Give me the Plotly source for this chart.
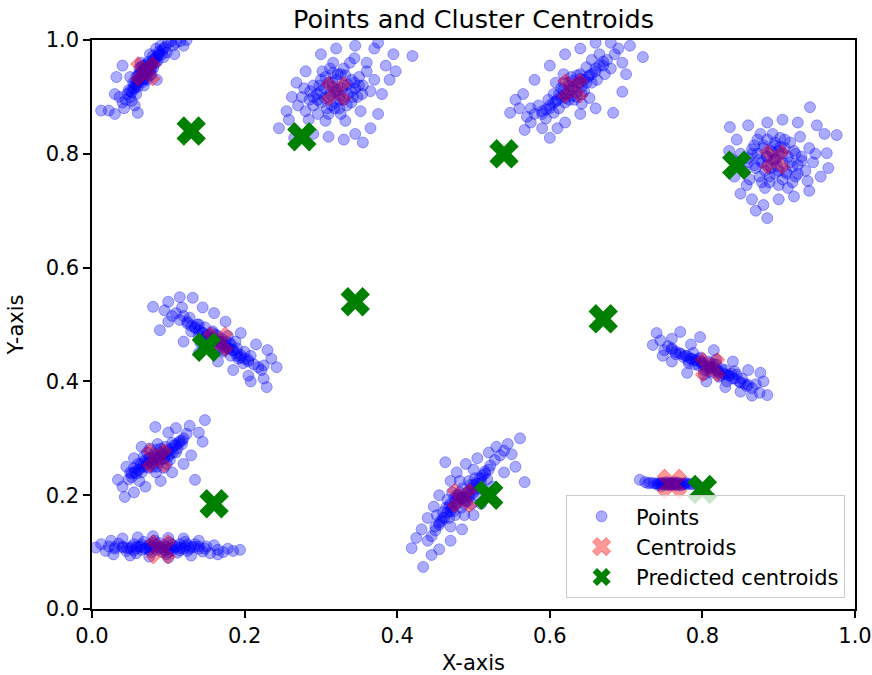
import plotly.graph_objects as go

# ---- data ----
cluster_1 = [(0.070,0.945),(0.066,0.938),(0.074,0.952),(0.062,0.932),(0.078,0.958),(0.068,0.948),(0.072,0.940),(0.060,0.925),(0.080,0.965),(0.064,0.944),(0.076,0.946),(0.058,0.920),(0.084,0.970),(0.070,0.955),(0.070,0.932),(0.056,0.915),(0.088,0.975),(0.062,0.950),(0.078,0.940),(0.066,0.926),(0.082,0.960),(0.074,0.962),(0.060,0.938),(0.052,0.908),(0.092,0.982),(0.086,0.964),(0.054,0.925),(0.068,0.920),(0.090,0.990),(0.096,0.988),(0.100,0.995),(0.050,0.900),(0.048,0.912),(0.058,0.905),(0.080,0.950),(0.064,0.960),(0.076,0.975),(0.084,0.985),(0.104,0.998),(0.110,0.995),(0.094,0.970),(0.098,0.978),(0.044,0.895),(0.046,0.905),(0.052,0.893),(0.072,0.930),(0.066,0.955),(0.106,0.990),(0.116,0.998),(0.040,0.890),
             (0.068,0.942),(0.072,0.948),(0.064,0.936),(0.076,0.954),(0.060,0.930),(0.080,0.958),(0.070,0.950),(0.070,0.940),(0.066,0.945),(0.074,0.945),(0.062,0.940),(0.078,0.950),(0.058,0.928),(0.082,0.966),(0.056,0.922),(0.086,0.972),(0.064,0.952),(0.076,0.938),(0.054,0.915),(0.088,0.980),(0.072,0.958),(0.068,0.932),(0.084,0.960),(0.060,0.918),(0.092,0.975),(0.050,0.910),(0.080,0.972),(0.058,0.935),(0.094,0.985),(0.066,0.930),
             (0.012,0.876),(0.022,0.876),(0.030,0.870),(0.060,0.872),(0.042,0.880),(0.036,0.900),(0.056,0.885),(0.032,0.935),(0.040,0.955),(0.120,0.990),(0.108,0.975),(0.085,0.930),(0.124,1.000),(0.050,0.935),(0.030,0.905)]
cluster_2 = [(0.320,0.910),(0.310,0.900),(0.330,0.920),(0.300,0.890),(0.340,0.930),(0.315,0.925),(0.325,0.895),(0.305,0.915),(0.335,0.905),(0.295,0.905),(0.345,0.915),(0.318,0.880),(0.322,0.940),(0.290,0.885),(0.350,0.935),(0.300,0.930),(0.340,0.890),(0.285,0.895),(0.355,0.920),(0.310,0.870),(0.330,0.950),(0.280,0.875),(0.360,0.945),(0.326,0.870),(0.312,0.950),(0.296,0.870),(0.348,0.900),(0.302,0.945),(0.338,0.960),(0.275,0.900),(0.365,0.910),(0.290,0.920),(0.352,0.875),(0.316,0.960),(0.284,0.860),(0.332,0.858),(0.370,0.930),(0.270,0.885),(0.344,0.968),(0.306,0.858),(0.360,0.960),(0.278,0.915),
             (0.318,0.908),(0.322,0.912),(0.312,0.905),(0.328,0.915),(0.305,0.898),(0.335,0.922),(0.315,0.918),(0.325,0.902),(0.300,0.910),(0.340,0.910),(0.310,0.925),(0.330,0.895),(0.296,0.895),(0.344,0.925),(0.320,0.930),(0.320,0.890),(0.306,0.935),(0.334,0.885),(0.290,0.900),(0.350,0.920),(0.314,0.885),(0.326,0.940),(0.298,0.920),(0.342,0.900),(0.308,0.880),(0.332,0.938),(0.286,0.910),(0.354,0.905),(0.324,0.880),(0.316,0.942),
             (0.245,0.845),(0.258,0.860),(0.262,0.900),(0.255,0.875),(0.268,0.925),(0.300,0.975),(0.320,0.985),(0.345,0.990),(0.375,0.995),(0.395,0.975),(0.420,0.972),(0.385,0.955),(0.380,0.905),(0.375,0.870),(0.365,0.845),(0.345,0.835),(0.330,0.825),(0.310,0.830),(0.290,0.835),(0.265,0.828),(0.355,0.820),(0.390,0.930),(0.280,0.945),(0.370,0.985),(0.398,0.945)]
cluster_3 = [(0.630,0.915),(0.620,0.905),(0.640,0.925),(0.610,0.895),(0.650,0.935),(0.625,0.925),(0.635,0.900),(0.600,0.885),(0.660,0.945),(0.615,0.915),(0.645,0.910),(0.590,0.875),(0.670,0.955),(0.605,0.905),(0.655,0.925),(0.620,0.890),(0.640,0.940),(0.580,0.870),(0.675,0.965),(0.598,0.895),(0.662,0.930),(0.612,0.880),(0.648,0.952),(0.585,0.885),(0.680,0.950),(0.628,0.935),(0.632,0.895),(0.595,0.862),(0.665,0.975),(0.575,0.880),(0.685,0.975),(0.618,0.940),(0.642,0.888),(0.605,0.872),(0.655,0.965),(0.570,0.865),(0.690,0.985),(0.652,0.898),(0.608,0.925),(0.672,0.940),
             (0.628,0.912),(0.632,0.918),(0.622,0.905),(0.638,0.925),(0.615,0.900),(0.645,0.930),(0.625,0.920),(0.635,0.908),(0.608,0.892),(0.652,0.938),(0.618,0.912),(0.642,0.918),(0.600,0.880),(0.660,0.950),(0.620,0.898),(0.640,0.932),(0.612,0.905),(0.648,0.925),(0.595,0.878),(0.665,0.955),(0.630,0.928),(0.630,0.902),(0.605,0.890),(0.655,0.940),(0.618,0.925),(0.642,0.905),(0.590,0.870),(0.670,0.962),(0.625,0.895),(0.636,0.938),
             (0.548,0.872),(0.560,0.880),(0.567,0.842),(0.600,0.828),(0.590,0.845),(0.620,0.855),(0.640,0.870),(0.683,0.872),(0.695,0.909),(0.700,0.940),(0.722,0.970),(0.705,0.990),(0.680,0.995),(0.660,0.995),(0.640,0.985),(0.620,0.975),(0.600,0.955),(0.580,0.930),(0.565,0.905),(0.555,0.895),(0.610,0.845),(0.695,0.960),(0.660,0.880),(0.575,0.855)]
cluster_4 = [(0.895,0.790),(0.885,0.780),(0.905,0.800),(0.875,0.790),(0.915,0.785),(0.890,0.805),(0.900,0.770),(0.870,0.775),(0.920,0.805),(0.880,0.810),(0.910,0.765),(0.865,0.800),(0.925,0.780),(0.895,0.820),(0.888,0.760),(0.860,0.785),(0.930,0.795),(0.878,0.750),(0.908,0.825),(0.935,0.770),(0.855,0.770),(0.900,0.745),(0.872,0.825),(0.918,0.750),(0.940,0.810),(0.862,0.755),(0.892,0.835),(0.928,0.830),(0.850,0.800),(0.945,0.785),(0.882,0.740),(0.912,0.740),(0.868,0.815),(0.902,0.812),(0.922,0.760),(0.884,0.795),(0.938,0.752),(0.858,0.745),(0.948,0.800),(0.876,0.835),
             (0.893,0.788),(0.897,0.792),(0.885,0.795),(0.905,0.785),(0.890,0.775),(0.900,0.805),(0.878,0.785),(0.912,0.795),(0.882,0.770),(0.908,0.810),(0.895,0.765),(0.895,0.815),(0.872,0.800),(0.918,0.778),(0.880,0.815),(0.910,0.768),(0.868,0.780),(0.922,0.800),(0.888,0.750),(0.902,0.828),(0.875,0.760),(0.915,0.820),(0.865,0.808),(0.925,0.765),(0.898,0.778),(0.892,0.802),(0.885,0.825),(0.905,0.755),(0.930,0.788),(0.860,0.792),
             (0.836,0.847),(0.845,0.825),(0.840,0.790),(0.842,0.760),(0.850,0.730),(0.865,0.720),(0.880,0.710),(0.885,0.687),(0.900,0.720),(0.920,0.725),(0.940,0.735),(0.955,0.760),(0.963,0.801),(0.976,0.833),(0.960,0.835),(0.941,0.882),(0.925,0.855),(0.905,0.860),(0.885,0.855),(0.860,0.850),(0.950,0.850),(0.870,0.700),(0.965,0.775),(0.835,0.805)]
cluster_5 = [(0.165,0.470),(0.155,0.478),(0.175,0.462),(0.145,0.486),(0.185,0.454),(0.160,0.465),(0.170,0.475),(0.135,0.494),(0.195,0.446),(0.150,0.472),(0.180,0.468),(0.125,0.502),(0.205,0.438),(0.140,0.480),(0.190,0.458),(0.158,0.488),(0.172,0.452),(0.115,0.508),(0.212,0.430),(0.130,0.488),(0.200,0.452),(0.148,0.495),(0.182,0.445),(0.120,0.515),(0.218,0.425),(0.162,0.482),(0.168,0.458),(0.110,0.520),(0.222,0.420),(0.138,0.500),(0.192,0.440),(0.152,0.460),(0.178,0.480),(0.128,0.512),(0.208,0.445),(0.142,0.468),(0.188,0.470),(0.105,0.515),(0.225,0.428),(0.198,0.432),
             (0.163,0.472),(0.167,0.468),(0.158,0.476),(0.172,0.464),(0.150,0.480),(0.180,0.458),(0.160,0.470),(0.170,0.470),(0.145,0.485),(0.185,0.455),(0.155,0.470),(0.175,0.470),(0.140,0.490),(0.190,0.450),(0.152,0.482),(0.178,0.458),(0.135,0.495),(0.195,0.442),(0.165,0.480),(0.165,0.460),(0.130,0.498),(0.200,0.440),(0.148,0.475),(0.182,0.465),(0.125,0.505),(0.205,0.435),(0.158,0.485),(0.172,0.455),(0.140,0.500),(0.190,0.445),
             (0.080,0.531),(0.089,0.490),(0.095,0.525),(0.100,0.505),(0.115,0.548),(0.132,0.547),(0.118,0.530),(0.145,0.530),(0.160,0.520),(0.175,0.505),(0.195,0.485),(0.215,0.465),(0.229,0.390),(0.242,0.425),(0.235,0.440),(0.225,0.405),(0.205,0.410),(0.185,0.420),(0.165,0.435),(0.140,0.450),(0.120,0.470),(0.230,0.455),(0.100,0.540),(0.208,0.400)]
cluster_6 = [(0.810,0.425),(0.800,0.432),(0.820,0.418),(0.790,0.438),(0.830,0.412),(0.805,0.420),(0.815,0.430),(0.780,0.445),(0.840,0.405),(0.795,0.428),(0.825,0.422),(0.770,0.450),(0.850,0.398),(0.785,0.440),(0.835,0.410),(0.808,0.435),(0.812,0.415),(0.760,0.456),(0.858,0.392),(0.775,0.443),(0.845,0.412),(0.798,0.442),(0.822,0.408),(0.755,0.462),(0.865,0.388),(0.788,0.450),(0.832,0.400),(0.765,0.448),(0.852,0.405),(0.802,0.412),(0.818,0.438),(0.750,0.455),(0.870,0.395),(0.782,0.432),(0.842,0.418),
             (0.808,0.427),(0.812,0.423),(0.800,0.430),(0.820,0.420),(0.792,0.436),(0.828,0.414),(0.805,0.425),(0.815,0.425),(0.785,0.440),(0.835,0.410),(0.798,0.435),(0.822,0.415),(0.778,0.445),(0.842,0.405),(0.790,0.430),(0.830,0.420),(0.772,0.448),(0.848,0.400),(0.810,0.432),(0.810,0.418),(0.765,0.452),(0.855,0.396),(0.795,0.440),(0.825,0.410),(0.782,0.436),(0.838,0.414),(0.760,0.458),(0.860,0.394),(0.802,0.420),(0.818,0.430),
             (0.740,0.485),(0.735,0.464),(0.745,0.472),(0.771,0.487),(0.797,0.478),(0.760,0.475),(0.785,0.465),(0.815,0.455),(0.840,0.435),(0.860,0.420),(0.876,0.415),(0.885,0.376),(0.875,0.380),(0.865,0.375),(0.850,0.382),(0.830,0.390),(0.805,0.400),(0.780,0.415),(0.760,0.435),(0.880,0.400),(0.748,0.445)]
cluster_7 = [(0.085,0.265),(0.078,0.258),(0.092,0.272),(0.070,0.250),(0.100,0.280),(0.082,0.272),(0.088,0.258),(0.062,0.245),(0.108,0.288),(0.075,0.265),(0.095,0.265),(0.058,0.238),(0.115,0.295),(0.068,0.258),(0.102,0.272),(0.080,0.250),(0.090,0.282),(0.052,0.232),(0.120,0.300),(0.065,0.240),(0.105,0.292),(0.072,0.275),(0.098,0.255),(0.055,0.248),(0.112,0.282),(0.086,0.290),(0.084,0.240),(0.048,0.228),(0.124,0.308),(0.060,0.255),(0.110,0.275),(0.094,0.248),(0.076,0.282),(0.118,0.290),(0.050,0.240),
             (0.083,0.263),(0.087,0.267),(0.078,0.260),(0.092,0.270),(0.072,0.255),(0.098,0.276),(0.082,0.268),(0.088,0.262),(0.066,0.250),(0.104,0.282),(0.076,0.266),(0.094,0.264),(0.060,0.245),(0.110,0.288),(0.080,0.255),(0.090,0.275),(0.070,0.262),(0.100,0.268),(0.056,0.240),(0.114,0.292),(0.085,0.280),(0.085,0.250),(0.064,0.255),(0.106,0.275),(0.074,0.248),(0.096,0.285),(0.052,0.238),(0.118,0.296),(0.068,0.268),(0.102,0.262),
             (0.034,0.227),(0.043,0.197),(0.040,0.215),(0.045,0.250),(0.055,0.265),(0.065,0.285),(0.083,0.320),(0.100,0.310),(0.110,0.318),(0.128,0.322),(0.148,0.332),(0.145,0.294),(0.135,0.227),(0.130,0.270),(0.120,0.255),(0.105,0.240),(0.090,0.225),(0.070,0.215),(0.055,0.205),(0.140,0.310),(0.062,0.225)]
cluster_8 = [(0.485,0.195),(0.478,0.185),(0.492,0.205),(0.470,0.172),(0.500,0.218),(0.480,0.200),(0.490,0.190),(0.462,0.160),(0.508,0.230),(0.475,0.195),(0.495,0.198),(0.455,0.148),(0.515,0.242),(0.468,0.180),(0.502,0.210),(0.486,0.212),(0.484,0.178),(0.450,0.138),(0.522,0.252),(0.460,0.170),(0.510,0.222),(0.472,0.205),(0.498,0.185),(0.445,0.128),(0.528,0.262),(0.476,0.165),(0.494,0.225),(0.458,0.155),(0.512,0.235),(0.466,0.192),(0.505,0.200),(0.440,0.120),(0.535,0.270),(0.482,0.225),(0.488,0.165),(0.452,0.165),(0.518,0.228),(0.470,0.145),(0.500,0.245),(0.540,0.278),
             (0.484,0.193),(0.486,0.197),(0.478,0.186),(0.492,0.204),(0.472,0.178),(0.498,0.212),(0.480,0.195),(0.490,0.195),(0.466,0.170),(0.504,0.220),(0.476,0.190),(0.494,0.200),(0.460,0.160),(0.510,0.230),(0.482,0.205),(0.488,0.185),(0.470,0.185),(0.500,0.205),(0.455,0.152),(0.515,0.238),(0.474,0.172),(0.496,0.218),(0.464,0.178),(0.506,0.212),(0.468,0.160),(0.502,0.230),(0.450,0.145),(0.520,0.245),(0.478,0.200),(0.492,0.190),
             (0.434,0.074),(0.419,0.107),(0.425,0.125),(0.432,0.140),(0.440,0.160),(0.448,0.180),(0.455,0.200),(0.463,0.258),(0.470,0.225),(0.478,0.240),(0.490,0.255),(0.505,0.265),(0.520,0.275),(0.530,0.285),(0.545,0.290),(0.561,0.300),(0.567,0.223),(0.555,0.250),(0.540,0.240),(0.525,0.215),(0.510,0.185),(0.500,0.165),(0.485,0.140),(0.470,0.120),(0.455,0.105),(0.445,0.095),(0.550,0.272)]
cluster_9 = [(0.760,0.220),(0.755,0.219),(0.765,0.221),(0.750,0.220),(0.770,0.219),(0.758,0.222),(0.762,0.218),(0.745,0.221),(0.775,0.220),(0.752,0.218),(0.768,0.222),(0.740,0.220),(0.780,0.219),(0.748,0.222),(0.772,0.217),(0.757,0.217),(0.763,0.223),(0.736,0.221),(0.785,0.220),(0.742,0.218),(0.778,0.222),(0.753,0.223),(0.767,0.217),(0.732,0.222),(0.788,0.219),(0.718,0.227),(0.725,0.223),(0.729,0.221),(0.792,0.220),(0.746,0.216),
             (0.758,0.220),(0.762,0.220),(0.754,0.221),(0.766,0.219),(0.750,0.219),(0.770,0.221),(0.746,0.220),(0.774,0.219),(0.760,0.221),(0.760,0.219),(0.742,0.221),(0.778,0.220)]
cluster_10 = [(0.090,0.108),(0.080,0.110),(0.100,0.106),(0.070,0.108),(0.110,0.110),(0.085,0.104),(0.095,0.112),(0.060,0.110),(0.120,0.106),(0.075,0.113),(0.105,0.103),(0.050,0.107),(0.130,0.109),(0.065,0.104),(0.115,0.114),(0.088,0.116),(0.092,0.100),(0.040,0.110),(0.140,0.106),(0.055,0.114),(0.125,0.102),(0.078,0.100),(0.102,0.117),(0.030,0.106),(0.150,0.110),(0.045,0.102),(0.135,0.114),(0.068,0.118),(0.112,0.099),(0.035,0.115),(0.145,0.101),(0.082,0.120),(0.098,0.096),(0.058,0.098),(0.122,0.118),
              (0.088,0.108),(0.092,0.108),(0.082,0.107),(0.098,0.109),(0.076,0.109),(0.104,0.107),(0.070,0.106),(0.110,0.108),(0.064,0.109),(0.116,0.107),(0.058,0.107),(0.122,0.110),(0.052,0.110),(0.128,0.106),(0.046,0.107),(0.134,0.109),(0.085,0.113),(0.095,0.103),(0.075,0.104),(0.105,0.113),(0.065,0.113),(0.115,0.103),(0.040,0.108),(0.140,0.110),(0.055,0.103),(0.125,0.113),(0.080,0.116),(0.100,0.100),(0.030,0.109),(0.148,0.106),
              (0.005,0.108),(0.012,0.114),(0.018,0.102),(0.022,0.110),(0.025,0.120),(0.040,0.124),(0.060,0.126),(0.080,0.128),(0.100,0.125),(0.120,0.124),(0.155,0.098),(0.160,0.112),(0.165,0.104),(0.172,0.100),(0.178,0.106),(0.185,0.102),(0.194,0.104),(0.050,0.094),(0.075,0.092),(0.100,0.090),(0.130,0.094),(0.140,0.120),(0.165,0.096),(0.028,0.096)]

centroid_x = [0.070, 0.320, 0.630, 0.895, 0.165, 0.810, 0.085, 0.485, 0.760, 0.090]
centroid_y = [0.945, 0.910, 0.915, 0.790, 0.470, 0.425, 0.265, 0.195, 0.220, 0.105]

pred_x = [0.130, 0.275, 0.540, 0.845, 0.345, 0.670, 0.150, 0.160, 0.520, 0.800]
pred_y = [0.840, 0.830, 0.800, 0.780, 0.540, 0.510, 0.460, 0.185, 0.200, 0.210]

tick_vals = [0.0, 0.2, 0.4, 0.6, 0.8, 1.0]
tick_text = ["0.0", "0.2", "0.4", "0.6", "0.8", "1.0"]

# ---- build ----
clusters = [cluster_1, cluster_2, cluster_3, cluster_4, cluster_5,
            cluster_6, cluster_7, cluster_8, cluster_9, cluster_10]
points_x = [p[0] for c in clusters for p in c]
points_y = [p[1] for c in clusters for p in c]

FONT = "DejaVu Sans"

fig = go.Figure()
fig.add_trace(go.Scatter(
    x=points_x, y=points_y, mode="markers", name="Points",
    marker=dict(size=11, color="rgba(0,0,255,0.33)",
                line=dict(color="rgba(0,0,255,0.33)", width=1)),
))
fig.add_trace(go.Scatter(
    x=centroid_x, y=centroid_y, mode="markers", name="Centroids",
    marker=dict(symbol="x", size=26, color="rgba(255,0,0,0.4)",
                line=dict(color="rgba(255,0,0,0.4)", width=1)),
))
fig.add_trace(go.Scatter(
    x=pred_x, y=pred_y, mode="markers", name="Predicted centroids",
    marker=dict(symbol="x", size=26, color="green", line=dict(width=0)),
))

axis_common = dict(
    range=[0, 1], tickvals=tick_vals, ticktext=tick_text,
    showline=True, mirror=True, linecolor="black", linewidth=1.5,
    ticks="outside", ticklen=7, tickwidth=1.5, tickcolor="black",
    showgrid=False, zeroline=False, automargin=False,
    ticklabeloverflow="allow",
    tickfont=dict(family=FONT, size=21, color="black"),
)

fig.update_layout(
    width=872, height=675,
    margin=dict(l=92, r=17, t=40, b=66),
    paper_bgcolor="white", plot_bgcolor="white",
    font=dict(family=FONT, color="black"),
    title=dict(text="Points and Cluster Centroids", x=0.5, xref="paper",
               xanchor="center", y=1 - 19 / 675, yanchor="middle",
               font=dict(family=FONT, size=25.5, color="black")),
    xaxis=dict(axis_common, title=dict(text="X-axis", standoff=17,
               font=dict(family=FONT, size=21, color="black"))),
    yaxis=dict(axis_common, title=dict(text="Y-axis", standoff=16,
               font=dict(family=FONT, size=21, color="black"))),
    legend=dict(x=0.987, y=0.019, xanchor="right", yanchor="bottom",
                bgcolor="rgba(255,255,255,0.8)", bordercolor="#cccccc",
                borderwidth=1, font=dict(family=FONT, size=21, color="black"),
                itemwidth=59, tracegroupgap=0),
    showlegend=True,
)

# remove the default 8px page margin so the 872x675 figure fills the window
fig.write_html("out.html",
               config={"displayModeBar": False},
               post_script="document.body.style.margin='0px';document.body.style.overflow='hidden';")
